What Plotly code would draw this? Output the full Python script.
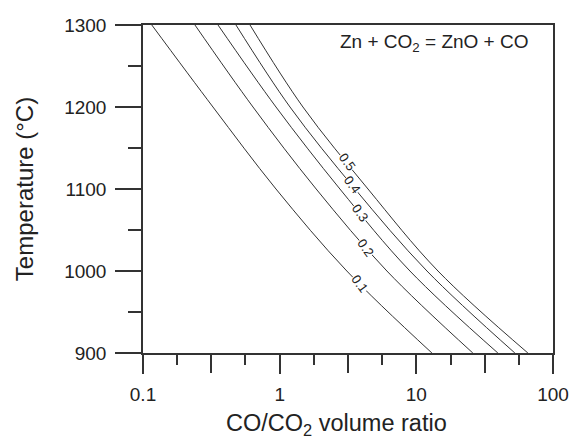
import math
import plotly.graph_objects as go

# Data
temps = [1300, 1200, 1100, 1000, 900]
levels = ["0.1", "0.2", "0.3", "0.4", "0.5"]
ratio_01 = [0.116, 0.325, 0.94, 3.10, 13.0]
ratio_02 = [0.24, 0.638, 1.85, 6.09, 25.9]
ratio_03 = [0.354, 0.94, 2.76, 8.98, 39.5]
ratio_04 = [0.479, 1.19, 3.56, 11.96, 52.6]
ratio_05 = [0.607, 1.48, 4.43, 14.4, 65.5]
series = [ratio_01, ratio_02, ratio_03, ratio_04, ratio_05]

label_x = [3.85, 4.25, 3.85, 3.38, 3.1]
label_t = [985, 1029, 1071, 1105, 1133]

x_major = [0.1, 1, 10, 100]
x_half = [0.316, 3.16, 31.6]
x_quarter = [0.178, 0.562, 1.78, 5.62, 17.8, 56.2]
y_major = [900, 1000, 1100, 1200, 1300]
y_minor = [950, 1050, 1150, 1250]

FONT = "Arial, Liberation Sans, sans-serif"
LINE = "#333333"
TEXT = "#222222"

W, H = 571, 441
L, R, T, B = 143, 18, 25, 88
pw, ph = W - L - R, H - T - B


def px_to_paper(xp, yp):
    return (xp - L) / pw, 1 - (yp - T) / ph


fig = go.Figure()
for lv, vals in zip(levels, series):
    fig.add_trace(go.Scatter(x=vals, y=temps, mode="lines", name=lv,
                             line=dict(color=LINE, width=1, shape="spline", smoothing=1.0),
                             showlegend=False, hoverinfo="skip"))

for lv, lx, lt in zip(levels, label_x, label_t):
    fig.add_annotation(x=math.log10(lx), y=lt, xref="x", yref="y", text=lv, showarrow=False,
                       textangle=54, bgcolor="white", borderpad=0,
                       font=dict(family=FONT, size=13, color=TEXT))

ex, ey = px_to_paper(434, 43)
fig.add_annotation(x=ex, y=ey, xref="paper", yref="paper",
                   text="Zn + CO<sub>2</sub> = ZnO + CO", showarrow=False,
                   xanchor="center", yanchor="middle",
                   font=dict(family=FONT, size=19, color=TEXT))

tx, ty = px_to_paper(336, 424)
fig.add_annotation(x=tx, y=ty, xref="paper", yref="paper",
                   text="CO/CO<sub>2</sub> volume ratio", showarrow=False,
                   xanchor="center", yanchor="middle",
                   font=dict(family=FONT, size=23.5, color=TEXT))

fig.update_layout(
    width=W, height=H,
    margin=dict(l=L, r=R, t=T, b=B, autoexpand=False),
    plot_bgcolor="white", paper_bgcolor="white",
    font=dict(family=FONT, size=19, color=TEXT),
    xaxis=dict(type="log", range=[-1, 2], tickvals=x_major,
               ticktext=[str(v) for v in x_major],
               ticks="outside", ticklen=19, tickwidth=1.5, tickcolor=LINE,
               showline=True, linecolor=LINE, linewidth=1.5, mirror=True,
               showgrid=False, zeroline=False,
               minor=dict(tickvals=x_quarter, ticks="outside", ticklen=10,
                          tickwidth=1.5, tickcolor=LINE, showgrid=False),
               tickfont=dict(size=19), ticklabelstandoff=4),
    xaxis2=dict(type="log", range=[-1, 2], overlaying="x", anchor="y", side="bottom",
                tickvals=x_half, ticks="outside", ticklen=19, tickwidth=1.5,
                tickcolor=LINE, showticklabels=False, showline=False,
                showgrid=False, zeroline=False),
    yaxis=dict(range=[900, 1300], tickvals=y_major,
               ticktext=[str(v) for v in y_major],
               ticks="outside", ticklen=26, tickwidth=1.5, tickcolor=LINE,
               showline=True, linecolor=LINE, linewidth=1.5, mirror=True,
               showgrid=False, zeroline=False,
               minor=dict(tickvals=y_minor, ticks="outside", ticklen=13,
                          tickwidth=1.5, tickcolor=LINE, showgrid=False),
               tickfont=dict(size=19), ticklabelstandoff=5,
               title=dict(text="Temperature (°C)", font=dict(size=24), standoff=24)),
)
# invisible trace so the half-decade tick axis is drawn
fig.add_trace(go.Scatter(x=[x_major[0]], y=[y_major[0]], xaxis="x2", yaxis="y",
                         mode="markers", marker=dict(opacity=0), showlegend=False,
                         hoverinfo="skip"))

fig.write_html("out.html", config={"displayModeBar": False},
               post_script="document.body.style.margin='0';")
